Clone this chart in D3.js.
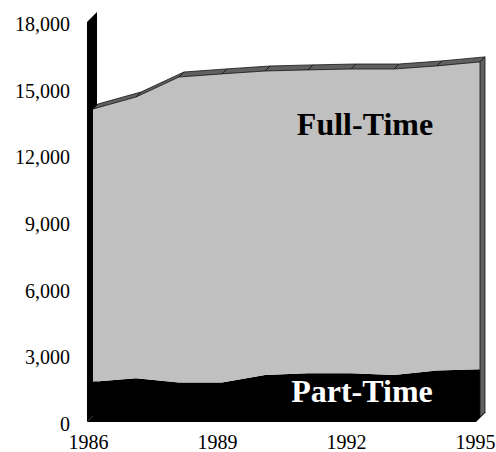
<!DOCTYPE html>
<html>
<head>
<meta charset="utf-8">
<script src="https://cdn.jsdelivr.net/npm/d3@7"></script>
<style>
  html, body { margin: 0; padding: 0; background: #fff; }
  svg { display: block; }
  text { font-family: "Liberation Serif", "Times New Roman", serif; }
</style>
</head>
<body>
<svg id="chart" width="496" height="452"></svg>
<script>
// ---- data ----
const years = [1986, 1987, 1988, 1989, 1990, 1991, 1992, 1993, 1994, 1995];
const partTime = [1590, 1740, 1550, 1550, 1890, 1970, 1970, 1890, 2090, 2150];
const fullTime = [12270, 12660, 13750, 13890, 13680, 13650, 13690, 13770, 13710, 13830];
const yTicks = [0, 3000, 6000, 9000, 12000, 15000, 18000];
const xTicks = [1986, 1989, 1992, 1995];
const seriesNames = ["Part-Time", "Full-Time"];

(function () {
// ---- layout ----
const svg = d3.select("#chart");
const x = d3.scaleLinear().domain([1986, 1995]).range([88, 475]);
const y = d3.scaleLinear().domain([0, 18000]).range([422, 22]);
const depth = 10;          // full chart depth (px, diagonal)
const sOff = 5;            // series front-face offset into depth

const rows = years.map((yr, i) => ({ year: yr, part: partTime[i], full: fullTime[i] }));
const stack = d3.stack().keys(["part", "full"])(rows);

// left wall (black)
const x0 = x(1986) - 1;
svg.append("polygon")
  .attr("points", [[x0, y(0)], [x0, y(18000)], [x0 + depth, y(18000) - depth], [x0 + depth, y(0) - depth]].join(" "))
  .attr("fill", "#000");

// floor (black)
const x1 = x(1995) + 1;
svg.append("polygon")
  .attr("points", [[x0, y(0)], [x1, y(0)], [x1 + depth, y(0) - depth], [x0 + depth, y(0) - depth]].join(" "))
  .attr("fill", "#000");

// series group shifted into depth
const g = svg.append("g").attr("transform", `translate(${sOff},${-sOff})`);

const area = d3.area()
  .x(d => x(d.data.year))
  .y0(d => y(d[0]))
  .y1(d => y(d[1]));

const fills = ["#000000", "#c0c0c0"];
g.selectAll("path.front")
  .data(stack)
  .join("path")
  .attr("class", "front")
  .attr("d", area)
  .attr("fill", (d, i) => fills[i]);

// top face of Full-Time (segment strips)
const topS = stack[1];
const dd = depth - sOff;
for (let i = 0; i < topS.length - 1; i++) {
  const a = [x(topS[i].data.year), y(topS[i][1])];
  const b = [x(topS[i + 1].data.year), y(topS[i + 1][1])];
  g.append("polygon")
    .attr("points", [a, b, [b[0] + dd, b[1] - dd], [a[0] + dd, a[1] - dd]].join(" "))
    .attr("fill", "#606060")
    .attr("stroke", "#111")
    .attr("stroke-width", 0.8)
    .attr("stroke-linejoin", "round");
}

// right side face
const last = topS[topS.length - 1];
const rx = x(last.data.year);
g.append("polygon")
  .attr("points", [[rx, y(last[1])], [rx + dd, y(last[1]) - dd], [rx + dd, y(0) - dd], [rx, y(0)]].join(" "))
  .attr("fill", "#606060")
  .attr("stroke", "#111")
  .attr("stroke-width", 0.8);

// series labels
svg.append("text")
  .attr("x", x(1992) + 19).attr("y", 135)
  .attr("text-anchor", "middle")
  .attr("font-size", 32).attr("font-weight", "bold")
  .attr("fill", "#000")
  .text(seriesNames[1]);
svg.append("text")
  .attr("x", x(1992) + 16).attr("y", 402)
  .attr("text-anchor", "middle")
  .attr("font-size", 32).attr("font-weight", "bold")
  .attr("fill", "#fff")
  .text(seriesNames[0]);

// axes
const yAxis = svg.append("g")
  .attr("transform", `translate(${x0},0)`)
  .call(d3.axisLeft(y).tickValues(yTicks).tickFormat(d3.format(",")).tickSize(0).tickPadding(17));
yAxis.select(".domain").remove();
yAxis.selectAll("text").attr("font-size", 20).attr("dy", "0.42em")
  .attr("font-family", "'Liberation Serif', 'Times New Roman', serif").attr("fill", "#000");

const xAxis = svg.append("g")
  .attr("transform", `translate(0,${y(0)})`)
  .call(d3.axisBottom(x).tickValues(xTicks).tickFormat(d3.format("d")).tickSize(0).tickPadding(13));
xAxis.select(".domain").remove();
xAxis.selectAll("text").attr("font-size", 20)
  .attr("font-family", "'Liberation Serif', 'Times New Roman', serif").attr("fill", "#000");
})();
</script>
</body>
</html>
